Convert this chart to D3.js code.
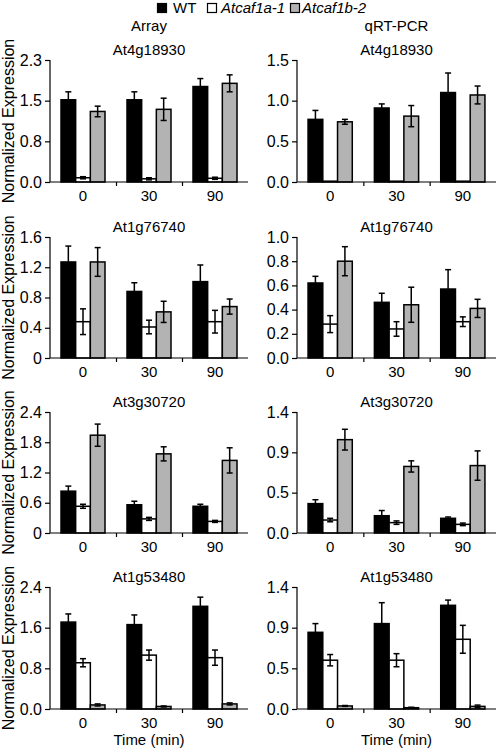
<!DOCTYPE html>
<html><head><meta charset="utf-8">
<script src="https://cdn.jsdelivr.net/npm/d3@7"></script>
<style>body{margin:0;background:#fff}svg{display:block;font-family:"Liberation Sans",Arial,sans-serif}</style>
</head><body><svg id="c" width="498" height="752"></svg>
<script>
const categories = ["0","30","90"];
const seriesNames = ["WT","Atcaf1a-1","Atcaf1b-2"];
const genes = ["At4g18930","At1g76740","At3g30720","At1g53480"];
const methods = ["Array","qRT-PCR"];

// mean values: rows = time point, columns = WT, Atcaf1a-1, Atcaf1b-2
const arrayAt4g18930Mean = [[1.55,0.08,1.33],[1.55,0.06,1.37],[1.80,0.07,1.86]];
const arrayAt4g18930Err  = [[0.15,0.02,0.10],[0.15,0.02,0.21],[0.15,0.02,0.16]];
const qpcrAt4g18930Mean  = [[0.77,0.01,0.74],[0.91,0.01,0.81],[1.10,0.01,1.07]];
const qpcrAt4g18930Err   = [[0.11,0,0.03],[0.05,0,0.13],[0.24,0,0.11]];
const arrayAt1g76740Mean = [[1.27,0.48,1.27],[0.88,0.41,0.61],[1.01,0.48,0.68]];
const arrayAt1g76740Err  = [[0.21,0.17,0.19],[0.115,0.09,0.14],[0.22,0.15,0.10]];
const qpcrAt1g76740Mean  = [[0.62,0.28,0.80],[0.46,0.24,0.44],[0.57,0.30,0.41]];
const qpcrAt1g76740Err   = [[0.055,0.07,0.12],[0.075,0.06,0.145],[0.16,0.04,0.075]];
const arrayAt3g30720Mean = [[0.83,0.53,1.94],[0.56,0.28,1.57],[0.53,0.23,1.44]];
const arrayAt3g30720Err  = [[0.10,0.04,0.22],[0.07,0.03,0.14],[0.04,0.02,0.25]];
const qpcrAt3g30720Mean  = [[0.34,0.15,1.08],[0.20,0.12,0.77],[0.17,0.10,0.78]];
const qpcrAt3g30720Err   = [[0.045,0.02,0.12],[0.06,0.02,0.065],[0.015,0.015,0.17]];
const arrayAt1g53480Mean = [[1.71,0.91,0.08],[1.66,1.06,0.05],[2.02,1.01,0.10]];
const arrayAt1g53480Err  = [[0.16,0.08,0.02],[0.19,0.10,0.01],[0.18,0.15,0.02]];
const qpcrAt1g53480Mean  = [[0.88,0.56,0.035],[0.98,0.56,0.015],[1.19,0.80,0.03]];
const qpcrAt1g53480Err   = [[0.10,0.065,0.005],[0.24,0.075,0.005],[0.06,0.16,0.015]];

// y-axis maxima and tick labels per panel (row-major: Array, qRT-PCR)
const yMax = [2.3, 1.5, 1.6, 1.0, 2.4, 1.4, 2.4, 1.4];
const yTickValues = [
  [0, 0.7667, 1.5333, 2.3], [0, 0.5, 1.0, 1.5],
  [0, 0.4, 0.8, 1.2, 1.6], [0, 0.2, 0.4, 0.6, 0.8, 1.0],
  [0, 0.6, 1.2, 1.8, 2.4], [0, 0.4667, 0.9333, 1.4],
  [0, 0.8, 1.6, 2.4], [0, 0.4667, 0.9333, 1.4]
];
const yTickLabels = [
  ["0.0","0.8","1.5","2.3"], ["0.0","0.5","1.0","1.5"],
  ["0","0.4","0.8","1.2","1.6"], ["0.0","0.2","0.4","0.6","0.8","1.0"],
  ["0","0.6","1.2","1.8","2.4"], ["0.0","0.5","0.9","1.4"],
  ["0.0","0.8","1.6","2.4"], ["0.0","0.5","0.9","1.4"]
];

const means = [arrayAt4g18930Mean, qpcrAt4g18930Mean, arrayAt1g76740Mean, qpcrAt1g76740Mean,
               arrayAt3g30720Mean, qpcrAt3g30720Mean, arrayAt1g53480Mean, qpcrAt1g53480Mean];
const errs = [arrayAt4g18930Err, qpcrAt4g18930Err, arrayAt1g76740Err, qpcrAt1g76740Err,
              arrayAt3g30720Err, qpcrAt3g30720Err, arrayAt1g53480Err, qpcrAt1g53480Err];

const fills = ["#000000", "#ffffff", "#b3b3b3"];
const colX = [[50, 248], [297, 496]];
const rowY = [[60, 182], [237, 358], [412, 533], [587, 709]];

const svg = d3.select("#c");

// legend
const legendItems = [
  {x: 157, tx: 173, italic: false},
  {x: 207, tx: 221, italic: true},
  {x: 290, tx: 302, italic: true}
];
legendItems.forEach((d, i) => {
  svg.append("rect").attr("x", d.x + 0.5).attr("y", 3.5).attr("width", 9).attr("height", 9)
    .attr("fill", fills[i]).attr("stroke", "#000").attr("stroke-width", 1.2);
  svg.append("text").attr("x", d.tx).attr("y", 13).attr("font-size", 15)
    .attr("font-style", d.italic ? "italic" : "normal").text(seriesNames[i]);
});

// column headers
methods.forEach((m, c) => {
  svg.append("text").attr("x", (colX[c][0] + colX[c][1]) / 2).attr("y", 31)
    .attr("text-anchor", "middle").attr("font-size", 15).text(m);
});

for (let r = 0; r < 4; r++) {
  for (let c = 0; c < 2; c++) {
    const p = r * 2 + c;
    const [x0, x1] = colX[c];
    const [yT, yB] = rowY[r];
    const g = svg.append("g");
    const x = d3.scaleBand().domain(categories).range([x0, x1]).padding(0);
    const step = x.step();
    const xs = d3.scaleBand().domain(d3.range(3)).range([step / 6, step * 5 / 6]).padding(0);
    const y = d3.scaleLinear().domain([0, yMax[p]]).range([yB, yT]);

    // title
    g.append("text").attr("x", (x0 + x1) / 2).attr("y", yT - 5)
      .attr("text-anchor", "middle").attr("font-size", 15).text(genes[r]);

    // bars
    const data = [];
    categories.forEach((cat, i) => {
      for (let s = 0; s < 3; s++) data.push({cat, s, v: means[p][i][s], e: errs[p][i][s]});
    });
    g.selectAll("rect.bar").data(data).enter().append("rect")
      .attr("x", d => x(d.cat) + xs(d.s))
      .attr("y", d => y(d.v))
      .attr("width", xs.bandwidth())
      .attr("height", d => y(0) - y(d.v))
      .attr("fill", d => fills[d.s])
      .attr("stroke", "#000").attr("stroke-width", 1.5);

    // error bars
    const eb = g.selectAll("g.err").data(data.filter(d => d.e > 0)).enter().append("g")
      .attr("stroke", "#000").attr("stroke-width", 1.5);
    const cx = d => x(d.cat) + xs(d.s) + xs.bandwidth() / 2;
    eb.append("line").attr("x1", cx).attr("x2", cx)
      .attr("y1", d => y(d.v + d.e)).attr("y2", d => y(Math.max(0, d.v - d.e)));
    eb.append("line").attr("x1", d => cx(d) - 3).attr("x2", d => cx(d) + 3)
      .attr("y1", d => y(d.v + d.e)).attr("y2", d => y(d.v + d.e));
    eb.append("line").attr("x1", d => cx(d) - 3).attr("x2", d => cx(d) + 3)
      .attr("y1", d => y(Math.max(0, d.v - d.e))).attr("y2", d => y(Math.max(0, d.v - d.e)));

    // y axis
    const ya = g.append("g").attr("transform", `translate(${x0},0)`)
      .call(d3.axisLeft(y).tickValues(yTickValues[p]).tickSize(5).tickPadding(3)
        .tickFormat((d, i) => yTickLabels[p][i]));
    ya.select(".domain").attr("stroke-width", 1.2).attr("d", `M-0,${yT}V${yB}`);
    ya.selectAll(".tick line").attr("stroke-width", 1.2);
    ya.selectAll("text").attr("font-size", 16).attr("font-family", null);

    // x axis: boundary ticks and category labels
    const xb = d3.scaleLinear().domain([0, 3]).range([x0, x1]);
    const xa = g.append("g").attr("transform", `translate(0,${yB})`)
      .call(d3.axisBottom(xb).tickValues([1, 2]).tickSize(4).tickFormat(""));
    xa.select(".domain").attr("stroke-width", 1.2).attr("d", `M${x0},0H${x1}`);
    xa.selectAll(".tick line").attr("stroke-width", 1.2);
    const xl = g.append("g").attr("transform", `translate(0,${yB})`)
      .call(d3.axisBottom(x).tickSize(0).tickPadding(8));
    xl.select(".domain").remove();
    xl.selectAll("text").attr("font-size", 15).attr("font-family", null);

    if (c === 0) {
      svg.append("text").attr("transform", `translate(14,${(yT + yB) / 2}) rotate(-90)`)
        .attr("text-anchor", "middle").attr("font-size", 16).text("Normalized Expression");
    }
    if (r === 3) {
      svg.append("text").attr("x", (x0 + x1) / 2).attr("y", 745)
        .attr("text-anchor", "middle").attr("font-size", 15).text("Time (min)");
    }
  }
}
</script></body></html>
